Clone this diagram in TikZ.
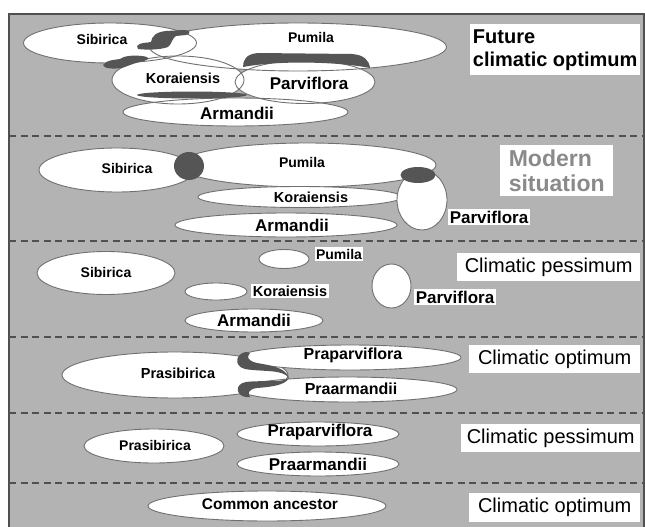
\documentclass[tikz,border=0pt]{standalone}
\usepackage{fontspec}
\setmainfont{Liberation Sans}
\usetikzlibrary{shapes.geometric}
\definecolor{bggray}{HTML}{B3B3B3}
\definecolor{blobgray}{HTML}{555555}
\definecolor{edgegray}{HTML}{707070}
\definecolor{dashgray}{HTML}{505050}
\definecolor{modgray}{HTML}{8A8A8A}
\begin{document}
\begin{tikzpicture}[x=1pt,y=-1pt,
  ov/.style n args={2}{ellipse, minimum width=#1pt, minimum height=#2pt, inner sep=0pt},
  wf/.style={fill=white},
  ol/.style={draw=edgegray, line width=0.9pt},
  wo/.style={fill=white, draw=edgegray, line width=0.9pt},
  blob/.style={fill=blobgray, draw=none},
  lab/.style={font=\bfseries\fontsize{#1}{#1}\selectfont, inner sep=1pt},
  tagbox/.style={font=\bfseries\fontsize{#1}{#1}\selectfont, fill=white, inner sep=1.5pt},
  stagebox/.style={fill=white, inner sep=2pt, anchor=north west, align=left},
  sep/.style={draw=dashgray, line width=2pt, dash pattern=on 7pt off 4.5pt}
]
\clip (0,0) rectangle (645,527);
\useasboundingbox (0,0) rectangle (645,527);
\fill[white] (0,0) rectangle (645,527);
% frame
\path[fill=bggray, draw=dashgray, line width=1.5pt] (9,14) rectangle (644,540);
% separators
\coordinate (s1a) at (9,136); \coordinate (s1b) at (644,136);
\coordinate (s2a) at (9,241); \coordinate (s2b) at (644,241);
\coordinate (s3a) at (9,337); \coordinate (s3b) at (644,337);
\coordinate (s4a) at (9,413); \coordinate (s4b) at (644,413);
\coordinate (s5a) at (9,483); \coordinate (s5b) at (644,483);
\draw[sep] (s1a) -- (s1b);
\draw[sep] (s2a) -- (s2b);
\draw[sep] (s3a) -- (s3b);
\draw[sep] (s4a) -- (s4b);
\draw[sep] (s5a) -- (s5b);

% ---------- Panel 1: future climatic optimum ----------
\node[ov={173}{40}, wf] (sib1) at (110,43) {};
\node[ov={297}{48}, wf] (pum1) at (298,47) {};
\node[ov={132}{48}, wf] (kor1) at (178,80) {};
\node[ov={140}{43}, wf] (par1) at (305,82) {};
\node[ov={225}{28}, wf] (arm1) at (235.5,112) {};
\node[ov={173}{40}, ol] at (sib1.center) {};
\node[ov={297}{48}, ol] at (pum1.center) {};
\node[ov={132}{48}, ol] at (kor1.center) {};
\node[ov={140}{43}, ol] at (par1.center) {};
\node[ov={225}{28}, ol] at (arm1.center) {};
% overlap blobs
\path[blob] (137,46) .. controls (140,42) and (148,43) .. (151,42)
  .. controls (152,36) and (156,32) .. (166,31) -- (184,30)
  .. controls (190,30) and (192,33) .. (186,35) -- (176,36)
  .. controls (172,38) and (172,44) .. (168,47)
  .. controls (160,50) and (146,50) .. (138,49) -- cycle;
\path[blob] (103,65) .. controls (106,60) and (114,60) .. (120,59)
  .. controls (124,56) and (132,55) .. (142,56)
  .. controls (150,57) and (150,59) .. (144,61)
  .. controls (134,63) and (128,66) .. (122,68)
  .. controls (114,69) and (104,69) .. (103,65) -- cycle;
\path[blob] (243,67) .. controls (243,60) and (246,54) .. (258,53)
  -- (352,54) .. controls (364,55) and (369,60) .. (370,68)
  .. controls (340,62) and (280,60) .. (243,67) -- cycle;
\path[blob] (192,95) ellipse [x radius=55, y radius=3.5];
\node[lab=14] (sib1t) at (102,39) {Sibirica};
\node[lab=14] (pum1t) at (311,37) {Pumila};
\node[lab=14.5] (kor1t) at (183,78) {Koraiensis};
\node[lab=17] (par1t) at (309,83) {Parviflora};
\node[lab=17] (arm1t) at (237,113) {Armandii};
\node[stagebox, minimum width=170pt, minimum height=51pt,
  font=\bfseries\fontsize{20}{23}\selectfont] (st1) at (470,24) {Future\\climatic optimum};

% ---------- Panel 2: modern situation ----------
\node[ov={156}{44}, wo] (sib2) at (117,170) {};
\node[ov={258}{44}, wo] (pum2) at (307,165) {};
\node[ov={204}{21}, wo] (kor2) at (300,197) {};
\node[ov={222}{24}, wo] (arm2) at (286,225) {};
\node[ov={50}{60}, wo] (par2) at (422,200) {};
\node[ov={30}{28}, blob] (ov2a) at (189,166) {};
\node[ov={35}{16}, blob] (ov2b) at (418,175) {};
\node[lab=14] (sib2t) at (127,168) {Sibirica};
\node[lab=14] (pum2t) at (302,162) {Pumila};
\node[lab=14.5] (kor2t) at (311,197) {Koraiensis};
\node[lab=17] (arm2t) at (292,225) {Armandii};
\node[tagbox=17] (par2t) at (489,217) {Parviflora};
\node[stagebox, minimum width=113pt, minimum height=51pt, text=modgray,
  font=\bfseries\fontsize{23}{25}\selectfont, inner xsep=8pt] (st2) at (500,145) {Modern\\situation};

% ---------- Panel 3: climatic pessimum ----------
\node[ov={138}{43}, wo] (sib3) at (106,273) {};
\node[ov={50}{19}, wo] (pum3) at (284,259) {};
\node[ov={62}{17}, wo] (kor3) at (216,291.5) {};
\node[ov={138}{23}, wo] (arm3) at (254,320.5) {};
\node[ov={39}{44}, wo] (par3) at (391.5,286) {};
\node[lab=14] (sib3t) at (106,272) {Sibirica};
\node[tagbox=14] (pum3t) at (339,254) {Pumila};
\node[tagbox=14.5] (kor3t) at (290,291) {Koraiensis};
\node[lab=17] (arm3t) at (254,320) {Armandii};
\node[tagbox=17] (par3t) at (455,297) {Parviflora};
\node[stagebox, minimum width=183pt, minimum height=28pt,
  font=\fontsize{20}{22}\selectfont] (st3) at (457,253) {Climatic pessimum};

% ---------- Panel 4: climatic optimum ----------
\node[ov={226}{46}, wo] (psib4) at (175,375) {};
\node[ov={222}{25}, wo] (ppar4) at (350,357.5) {};
\node[ov={218}{25}, wo] (parm4) at (348,389.5) {};
\path[blob] (246,352) .. controls (236,353) and (233,366) .. (245,369)
  .. controls (262,372) and (283,369) .. (289,378)
  .. controls (286,367) and (268,365) .. (257,363)
  .. controls (248,361) and (246,357) .. (250,353) -- cycle;
\path[blob] (246,397) .. controls (236,396) and (234,384) .. (246,382)
  .. controls (262,380) and (283,383) .. (289,378)
  .. controls (285,386) and (268,387) .. (257,388)
  .. controls (249,389) and (247,393) .. (250,397) -- cycle;
\node[lab=14.5] (psib4t) at (178,373) {Prasibirica};
\node[lab=16] (ppar4t) at (353,355) {Praparviflora};
\node[lab=16] (parm4t) at (351,389) {Praarmandii};
\node[stagebox, minimum width=171pt, minimum height=28pt,
  font=\fontsize{20}{22}\selectfont] (st4) at (469,345) {Climatic optimum};

% ---------- Panel 5: climatic pessimum ----------
\node[ov={140}{34}, wo] (psib5) at (154,446) {};
\node[ov={162}{24}, wo] (ppar5) at (318,434) {};
\node[ov={162}{24}, wo] (parm5) at (318,464) {};
\node[lab=14] (psib5t) at (155,445) {Prasibirica};
\node[lab=17] (ppar5t) at (320,432) {Praparviflora};
\node[lab=17] (parm5t) at (318,464) {Praarmandii};
\node[stagebox, minimum width=179pt, minimum height=28pt,
  font=\fontsize{20}{22}\selectfont] (st5) at (461,424) {Climatic pessimum};

% ---------- Panel 6: common ancestor ----------
\node[ov={238}{30}, wo] (anc) at (267,506) {};
\node[lab=15.5] (anct) at (270,504) {Common ancestor};
\node[stagebox, minimum width=171pt, minimum height=29pt,
  font=\fontsize{20}{22}\selectfont] (st6) at (469,493) {Climatic optimum};
\end{tikzpicture}
\end{document}
